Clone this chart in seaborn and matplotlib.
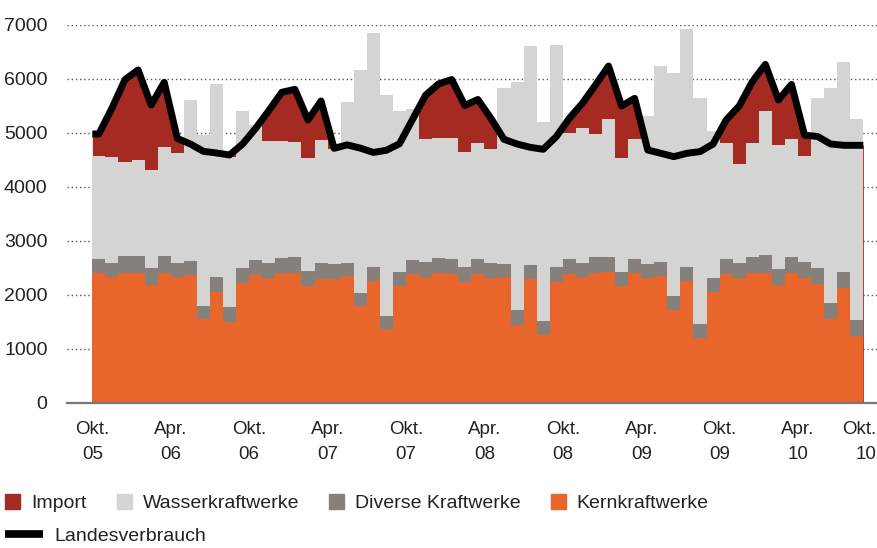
import numpy as np
import pandas as pd
import matplotlib.pyplot as plt
import seaborn as sns
from matplotlib.patches import Patch
from matplotlib.lines import Line2D

# Monatswerte Okt. 2005 - Aug. 2010 (GWh)

kern = [2402, 2327, 2414, 2414, 2179, 2402, 2327, 2364, 1549, 2062,
        1506, 2216, 2370, 2321, 2402, 2402, 2173, 2290, 2302, 2352,
        1796, 2259, 1377, 2173, 2389, 2327, 2402, 2389, 2247, 2389,
        2321, 2327, 1444, 2290, 1253, 2247, 2389, 2327, 2414, 2420,
        2173, 2402, 2321, 2352, 1722, 2259, 1210, 2050, 2389, 2321,
        2414, 2414, 2179, 2402, 2321, 2198, 1556, 2123, 1247]

diverse = [265, 266, 302, 314, 321, 314, 259, 266, 253, 271,
           266, 278, 278, 278, 283, 296, 271, 296, 272, 247,
           235, 266, 234, 247, 259, 278, 277, 284, 265, 278,
           265, 247, 278, 266, 266, 265, 272, 272, 284, 284,
           259, 271, 259, 265, 253, 266, 253, 271, 278, 265,
           284, 327, 303, 308, 290, 302, 290, 297, 290]

wasser = [1913, 1969, 1741, 1766, 1815, 2025, 2038, 2981, 3161, 3569,
          2790, 2914, 2500, 2253, 2167, 2142, 2087, 2284, 2126, 2981,
          4136, 4333, 4087, 2994, 2803, 2284, 2222, 2241, 2130, 2142,
          2112, 3266, 4216, 4055, 3691, 4112, 2345, 2500, 2278, 2555,
          2099, 2216, 2741, 3630, 4143, 4401, 4179, 2716, 2154, 1840,
          2111, 2673, 2296, 2173, 1963, 3154, 3981, 3889, 3716]

verbrauch = [4982, 5460, 5990, 6167, 5519, 5938, 4901, 4796, 4660, 4630,
             4593, 4796, 5087, 5414, 5754, 5809, 5241, 5593, 4716, 4780,
             4720, 4640, 4680, 4800, 5250, 5700, 5910, 5990, 5510, 5620,
             5272, 4883, 4796, 4735, 4698, 4932, 5272, 5550, 5889, 6240,
             5500, 5642, 4685, 4624, 4562, 4624, 4655, 4796, 5241, 5500,
             5950, 6270, 5611, 5900, 4960, 4935, 4796, 4772, 4772]

tick_labels = ["Okt.\n05", "Apr.\n06", "Okt.\n06", "Apr.\n07", "Okt.\n07", "Apr.\n08",
               "Okt.\n08", "Apr.\n09", "Okt.\n09", "Apr.\n10", "Okt.\n10"]

legend_labels = ["Import", "Wasserkraftwerke", "Diverse Kraftwerke", "Kernkraftwerke"]

c_import = "#a52a22"
c_wasser = "#d4d4d3"
c_diverse = "#85807b"
c_kern = "#e8662c"

df = pd.DataFrame({"monat": np.arange(len(kern)), "kern": kern, "diverse": diverse,
                   "wasser": wasser, "verbrauch": verbrauch})
df["top_div"] = df["kern"] + df["diverse"]
df["top_wasser"] = df["top_div"] + df["wasser"]

sns.set_style("white")
plt.rcParams["font.family"] = ["Liberation Sans", "DejaVu Sans"]

fig = plt.figure(figsize=(8.78, 5.48), dpi=100)
ax = fig.add_axes([0.0763, 0.2646, 0.9237, 0.6898])

# Import = Flaeche bis Landesverbrauch, Balken liegen darueber
n = len(df)
x_line = np.concatenate([[-0.5], df["monat"], [n - 0.5]])
y_line = np.concatenate([[verbrauch[0]], verbrauch, [verbrauch[-1]]])
ax.fill_between(x_line, 0, y_line, color=c_import, lw=0, zorder=1)

# gestapelte Balken
for col, c in [("top_wasser", c_wasser), ("top_div", c_diverse), ("kern", c_kern)]:
    sns.barplot(data=df, x="monat", y=col, color=c, saturation=1, width=1,
                errorbar=None, linewidth=0, ax=ax, zorder=2)

sns.lineplot(x=x_line, y=y_line, color="black", lw=5, ax=ax, zorder=3,
             solid_joinstyle="round", solid_capstyle="butt")

ax.set_xlim(-2.44, 59.62)
ax.set_ylim(0, 7000)
ax.set_yticks(range(0, 7001, 1000))
ax.set_yticklabels([str(v) for v in range(0, 7001, 1000)])
ax.set_xticks(np.arange(len(tick_labels)) * 6 - 0.5)
ax.set_xticklabels(tick_labels)
ax.set_xlabel("")
ax.set_ylabel("")

ax.grid(axis="y", color="#555555", lw=1.0, linestyle=(0, (1, 2)))
ax.grid(axis="x", visible=False)
ax.set_axisbelow(True)

for s in ["left", "top", "right"]:
    ax.spines[s].set_visible(False)
ax.spines["bottom"].set_color("#777777")
ax.spines["bottom"].set_linewidth(1.6)
ax.spines["bottom"].set_zorder(4)

ax.tick_params(axis="x", length=0, pad=13, labelsize=13.5, colors="#222222")
ax.tick_params(axis="y", length=0, pad=14, labelsize=14, colors="#222222")
for lab in ax.get_xticklabels():
    lab.set_linespacing(1.6)
ax.get_xticklabels()[-1].set_ha("right")

#Legende

handles = [Patch(color=c) for c in [c_import, c_wasser, c_diverse, c_kern]]
fig.legend(handles=handles, labels=legend_labels, loc="center left",
           bbox_to_anchor=(0.006, 0.082), ncol=4, frameon=False, fontsize=14,
           handlelength=0.78, handleheight=0.78, handletextpad=0.55,
           columnspacing=1.55, borderpad=0, borderaxespad=0, labelcolor="#222222")
fig.legend(handles=[Line2D([], [], color="black", lw=5.5, solid_capstyle="butt")],
           labels=["Landesverbrauch"], loc="center left",
           bbox_to_anchor=(0.006, 0.022), frameon=False, fontsize=14,
           handlelength=1.95, handletextpad=0.6, borderpad=0, borderaxespad=0,
           labelcolor="#222222")

fig.savefig("out.png", dpi=100, facecolor="white")
